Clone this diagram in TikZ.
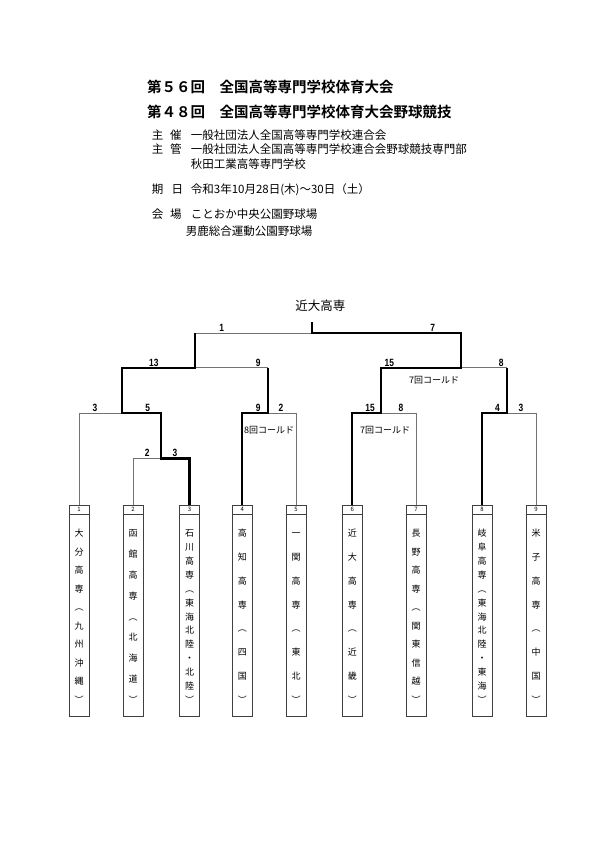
\documentclass[tikz,border=0pt]{standalone}
\usepackage{fontspec}
\newfontfamily\jp{Noto Sans CJK JP}[BoldFont={Noto Sans CJK JP Bold}]
\newfontfamily\scorefont{Liberation Sans}[FakeStretch=0.8]
\newcommand\teamcol[4]{%
  \foreach \tchar [count=\ii from 0] in {#4} {%
    \node[teamch] (#1c\ii) at ({#2},{533.3+\ii*166.7/(#3-1)+3.4}) {\tchar};
  }}
\begin{document}
\begin{tikzpicture}[x=1pt,y=-1pt,
  titlef/.style={anchor=base west,inner sep=0pt,font=\jp\bfseries\fontsize{14.5}{16}\selectfont},
  infof/.style={anchor=base west,inner sep=0pt,font=\jp\fontsize{11.5}{13}\selectfont},
  champf/.style={anchor=base,inner sep=0pt,font=\jp\fontsize{12.5}{14}\selectfont},
  score/.style={anchor=base,inner sep=0pt,font=\scorefont\bfseries\fontsize{10.5}{12}\selectfont},
  cold/.style={anchor=base,inner sep=0pt,font=\jp\fontsize{9}{10}\selectfont},
  teambox/.style={draw=black!75,line width=0.8pt,minimum width=20pt,minimum height=211pt,inner sep=0pt},
  numf/.style={inner sep=0pt,font=\jp\fontsize{6}{7}\selectfont},
  teamch/.style={anchor=base,inner sep=0pt,font=\jp\fontsize{9}{10}\selectfont},
  lose/.style={draw=black!55,line width=0.8pt},
  win/.style={draw=black,line width=2.2pt,line join=miter}]
\useasboundingbox (0,0) rectangle (595,841);
\fill[white] (0,0) rectangle (595,841);

% ---- header ----
\node[titlef] (t1) at (147,92.2) {第５６回　全国高等専門学校体育大会};
\node[titlef] (t2) at (147,117.2) {第４８回　全国高等専門学校体育大会野球競技};

\node[infof] (k1a) at (151.7,139.4) {主};
\node[infof] (k1b) at (170,139.4) {催};
\node[infof] (v1) at (190.7,139.4) {一般社団法人全国高等専門学校連合会};
\node[infof] (k2a) at (151.7,153.4) {主};
\node[infof] (k2b) at (170,153.4) {管};
\node[infof] (v2) at (190.7,153.4) {一般社団法人全国高等専門学校連合会野球競技専門部};
\node[infof] (v2b) at (190.7,168.7) {秋田工業高等専門学校};
\node[infof] (k3a) at (151.7,193.7) {期};
\node[infof] (k3b) at (171.5,193.7) {日};
\node[infof] (v3) at (190.7,193.7) {令和3年10月28日(木)～30日（土）};
\node[infof] (k4a) at (151.7,218.4) {会};
\node[infof] (k4b) at (170,218.4) {場};
\node[infof] (v4) at (190.7,218.4) {ことおか中央公園野球場};
\node[infof] (v4b) at (185.7,235.4) {男鹿総合運動公園野球場};

% ---- champion ----
\node[champf] (champname) at (320.3,310.8) {近大高専};

% ---- team boxes ----
\foreach \nm/\xx in {1/79,2/133,3/189.5,4/242.3,5/296,6/352.3,7/416,8/482,9/536}{
  \node[teambox] (b\nm) at (\xx,610.5) {};
  \draw[draw=black!75,line width=0.6pt] ([yshift=-10pt]b\nm.north west) -- ([yshift=-10pt]b\nm.north east);
  \node[numf] (n\nm) at ([yshift=-5pt]b\nm.north) {\nm};
}
\teamcol{t1}{79}{10}{大,分,高,専,︵,九,州,沖,縄,︶}
\teamcol{t2}{133}{9}{函,館,高,専,︵,北,海,道,︶}
\teamcol{t3}{189.5}{13}{石,川,高,専,︵,東,海,北,陸,・,北,陸,︶}
\teamcol{t4}{242.3}{8}{高,知,高,専,︵,四,国,︶}
\teamcol{t5}{296}{8}{一,関,高,専,︵,東,北,︶}
\teamcol{t6}{352.3}{8}{近,大,高,専,︵,近,畿,︶}
\teamcol{t7}{416}{10}{長,野,高,専,︵,関,東,信,越,︶}
\teamcol{t8}{482}{13}{岐,阜,高,専,︵,東,海,北,陸,・,東,海,︶}
\teamcol{t9}{536}{8}{米,子,高,専,︵,中,国,︶}

% ---- junctions ----
\coordinate (A) at (160.7,458.5);
\coordinate (B) at (122.3,413);
\coordinate (C) at (267.7,413);
\coordinate (D) at (195,367.7);
\coordinate (E) at (380.7,413);
\coordinate (F) at (507,413);
\coordinate (G) at (461,367.7);
\coordinate (Fin) at (311.7,333.3);
\coordinate (champ) at (311.7,322);
\coordinate (Cup) at (267.7,367.7);
\coordinate (Fup) at (507,367.7);
\coordinate (Dup) at (195,333.3);

% losers (thin)
\draw[lose] (b1.north) |- (B);
\draw[lose] (b2.north) |- (A);
\draw[lose] (b5.north) |- (C);
\draw[lose] (b7.north) |- (E);
\draw[lose] (b9.north) |- (F);
\draw[lose] (Cup) -- (D);
\draw[lose] (Fup) -- (G);
\draw[lose] (Dup) -- (Fin);

% winners (thick)
\draw[win] (b3.north) |- (A) |- (B) |- (D) -- (Dup);
\draw[win] (b4.north) |- (C) -- (Cup);
\draw[win] (b8.north) |- (F) -- (Fup);
\draw[win] (b6.north) |- (E) |- (G) |- (Fin) -- (champ);

% ---- scores ----
\node[score] (s1) at (221.7,331.6) {1};
\node[score] (s2) at (432.7,331.6) {7};
\node[score] (s3) at (153.8,366) {13};
\node[score] (s4) at (258.3,366) {9};
\node[score] (s5) at (389.3,366) {15};
\node[score] (s6) at (501.2,366) {8};
\node[score] (s7) at (95,411.3) {3};
\node[score] (s8) at (147.7,411.3) {5};
\node[score] (s9) at (258.3,411.3) {9};
\node[score] (s10) at (281,411.3) {2};
\node[score] (s11) at (370,411.3) {15};
\node[score] (s12) at (401,411.3) {8};
\node[score] (s13) at (497.5,411.3) {4};
\node[score] (s14) at (521,411.3) {3};
\node[score] (s15) at (147.3,456.8) {2};
\node[score] (s16) at (175,456.8) {3};

% ---- called games ----
\node[cold] (c1) at (434.2,383.4) {7回コールド};
\node[cold] (c2) at (269,433.4) {8回コールド};
\node[cold] (c3) at (385,433.4) {7回コールド};
\end{tikzpicture}
\end{document}
